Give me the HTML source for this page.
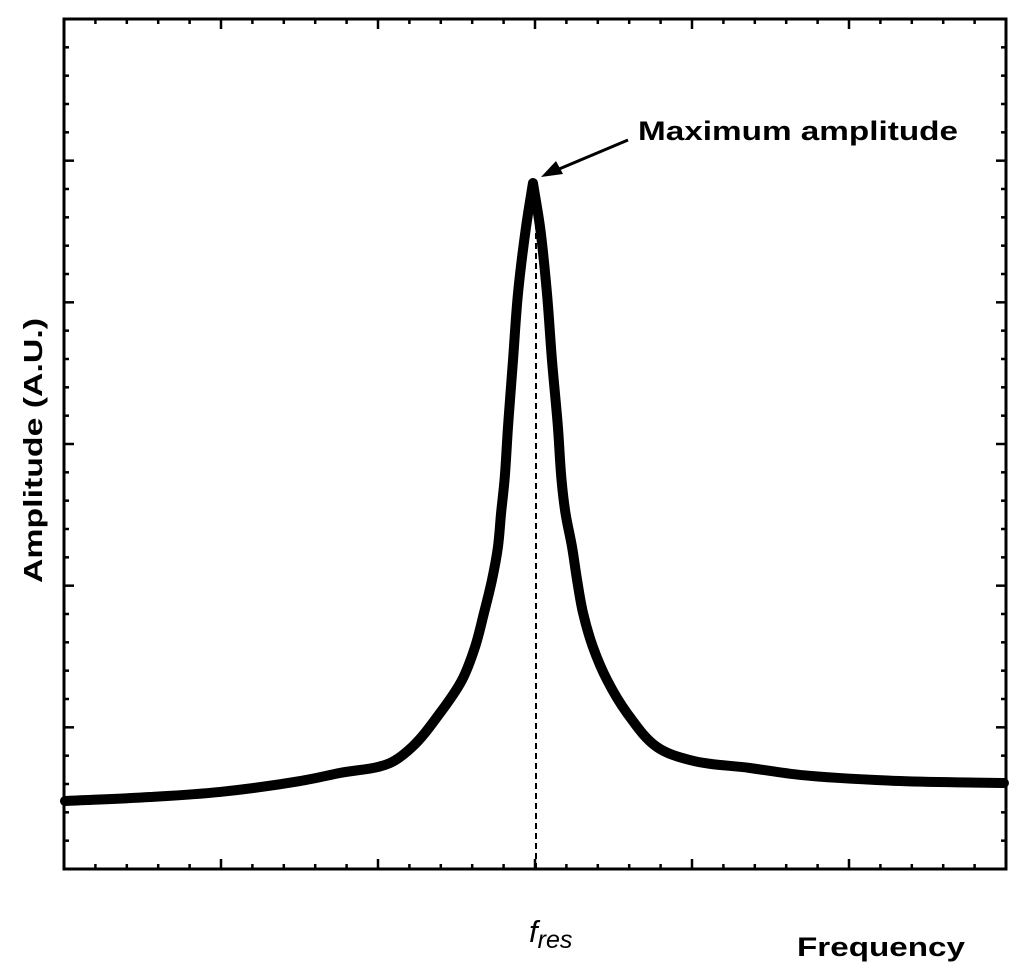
<!DOCTYPE html>
<html><head><meta charset="utf-8"><style>
html,body{margin:0;padding:0;background:#fff;}
svg{display:block;font-family:"Liberation Sans",Arial,sans-serif;}
</style></head><body>
<svg id="chart" width="1024" height="972" viewBox="0 0 1024 972" xmlns="http://www.w3.org/2000/svg">
<g id="ticks"></g>
<path id="curve" fill="none" stroke="#000" stroke-width="10" stroke-linejoin="round" stroke-linecap="round"></path>
<line id="resline" stroke="#000" stroke-width="2" stroke-dasharray="6,4"></line>
<rect x="64" y="19" width="942" height="850" fill="none" stroke="#000" stroke-width="3"></rect>
<line x1="628" y1="140" x2="552" y2="172" stroke="#000" stroke-width="3"></line>
<polygon points="541,177 556,161 563,174" fill="#000"></polygon>
<text x="638" y="140" font-size="27" font-weight="bold" textLength="320" lengthAdjust="spacingAndGlyphs">Maximum amplitude</text>
<text x="529" y="942" font-size="31" font-style="italic">f<tspan font-size="25" dy="6">res</tspan></text>
<text x="797" y="956" font-size="27" font-weight="bold" textLength="168" lengthAdjust="spacingAndGlyphs">Frequency</text>
<text transform="translate(42,583) rotate(-90)" font-size="26" font-weight="bold" textLength="265" lengthAdjust="spacingAndGlyphs">Amplitude  (A.U.)</text>
</svg>
<script>
const freq = [0.006,0.548,0.994,1.503,1.758,2.076,2.217,2.395,2.535,2.618,2.675,2.726,2.764,2.784,2.806,2.828,2.860,2.892,2.943,2.987,3.032,3.076,3.108,3.146,3.169,3.194,3.236,3.268,3.306,3.369,3.459,3.586,3.777,3.987,4.369,4.688,5.325,5.987];
const amp = [0.48,0.508,0.544,0.621,0.678,0.748,0.861,1.101,1.334,1.567,1.807,2.040,2.273,2.513,2.746,3.120,3.593,4.066,4.532,4.842,4.532,4.066,3.593,3.120,2.746,2.513,2.273,2.040,1.807,1.567,1.334,1.101,0.861,0.769,0.713,0.664,0.621,0.607];
const resFreq = 3.0;
const xMajorTicks = [0,1,2,3,4,5,6];
const yMajorTicks = [0,1,2,3,4,5,6];

const X0=64,X1=1006,Y0=869,Y1=19;
function xs(v){return X0+(X1-X0)*v/6;}
function ys(v){return Y0-(Y0-Y1)*v/6;}

const pts = freq.map((f,i)=>[xs(f),ys(amp[i])]);
const peakIdx = amp.indexOf(Math.max(...amp));
function unit(a,b){const dx=b[0]-a[0],dy=b[1]-a[1],l=Math.hypot(dx,dy)||1;return [dx/l,dy/l];}
function tangent(i,side){
  const n=pts.length;
  if(i===0) return unit(pts[0],pts[1]);
  if(i===n-1) return unit(pts[n-2],pts[n-1]);
  const a=unit(pts[i-1],pts[i]), b=unit(pts[i],pts[i+1]);
  if(i===peakIdx) return side==='out'?b:a;
  return unit([0,0],[a[0]+b[0],a[1]+b[1]]);
}
let d = 'M'+pts[0][0]+','+pts[0][1];
for(let i=0;i<pts.length-1;i++){
  const p1=pts[i],p2=pts[i+1];
  const L=Math.hypot(p2[0]-p1[0],p2[1]-p1[1])/3;
  const t1=tangent(i,'out'), t2=tangent(i+1,'in');
  const c1=[p1[0]+t1[0]*L,p1[1]+t1[1]*L];
  const c2=[p2[0]-t2[0]*L,p2[1]-t2[1]*L];
  d+=` C${c1[0]},${c1[1]} ${c2[0]},${c2[1]} ${p2[0]},${p2[1]}`;
}
document.getElementById('curve').setAttribute('d',d);

const rl=document.getElementById('resline');
rl.setAttribute('x1',xs(resFreq)+1);rl.setAttribute('x2',xs(resFreq)+1);
rl.setAttribute('y1',ys(Math.max(...amp))+40);rl.setAttribute('y2',Y0);

const g=document.getElementById('ticks');
const NS='http://www.w3.org/2000/svg';
function tick(x1,y1,x2,y2,name){
  const l=document.createElementNS(NS,'line');
  l.setAttribute('x1',x1);l.setAttribute('y1',y1);l.setAttribute('x2',x2);l.setAttribute('y2',y2);
  l.setAttribute('stroke','#000');l.setAttribute('stroke-width','2.5');
  
  
  g.appendChild(l);
}
for(let i=0;i<xMajorTicks.length;i++){
  const x=xs(xMajorTicks[i]);
  tick(x,Y0,x,Y0-10,'x-major-tick');tick(x,Y1,x,Y1+10,'x-major-tick');
  if(i<xMajorTicks.length-1){for(let k=1;k<5;k++){const xm=xs(xMajorTicks[i]+k/5);
    tick(xm,Y0,xm,Y0-5,'x-minor-tick');tick(xm,Y1,xm,Y1+5,'x-minor-tick');}}
}
for(let i=0;i<yMajorTicks.length;i++){
  const y=ys(yMajorTicks[i]);
  tick(X0,y,X0+10,y,'y-major-tick');tick(X1,y,X1-10,y,'y-major-tick');
  if(i<yMajorTicks.length-1){for(let k=1;k<5;k++){const ym=ys(yMajorTicks[i]+k/5);
    tick(X0,ym,X0+5,ym,'y-minor-tick');tick(X1,ym,X1-5,ym,'y-minor-tick');}}
}
</script>
</body></html>
